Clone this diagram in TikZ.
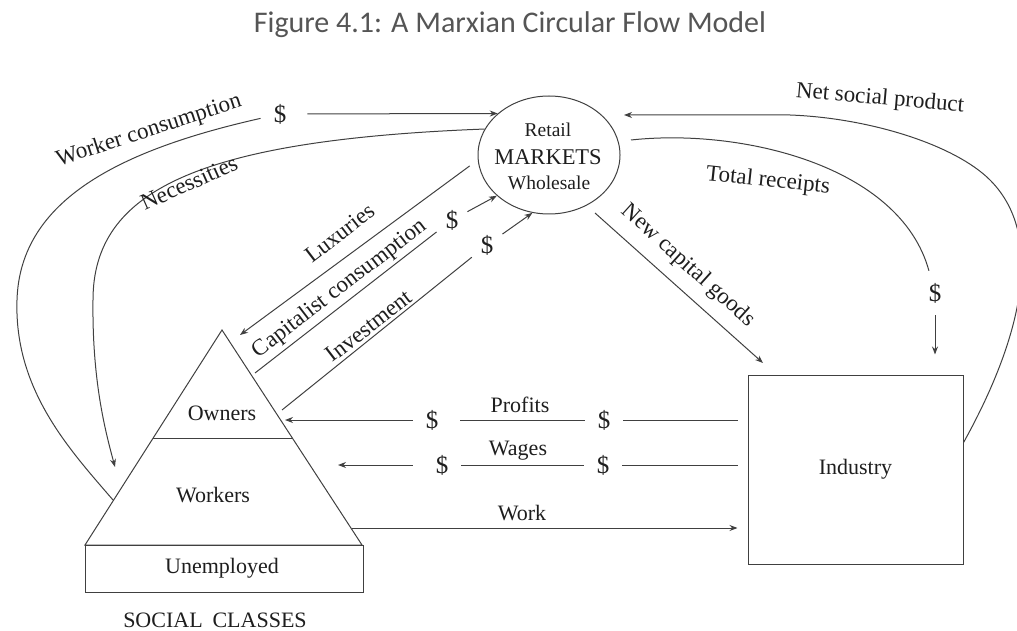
\documentclass[tikz,border=0pt]{standalone}
\usepackage{fontspec}
\setmainfont{Liberation Serif}
\newfontfamily\titlefont{Carlito}
\usetikzlibrary{shapes.geometric,arrows.meta}
\definecolor{linec}{HTML}{404040}
\definecolor{textc}{HTML}{1E1E1E}
\definecolor{titlec}{HTML}{555555}
\newcommand\lbfont{\fontsize{22}{24}\selectfont}
\newcommand\rtfont{\fontsize{23}{25}\selectfont}
\newcommand\smfont{\fontsize{19.5}{22}\selectfont}
\newcommand\mkfont{\fontsize{22.5}{24}\selectfont}
\newcommand\dolfont{\fontsize{25}{27}\selectfont}
\begin{document}
\begin{tikzpicture}[x=1pt,y=-1pt,
  ln/.style={draw=linec,line width=1pt},
  arr/.style={ln,-{Stealth[length=8pt,width=6pt]}},
  lbl/.style={text=textc,font=\lbfont,inner sep=0pt},
  rlbl/.style={lbl,font=\rtfont},
  dol/.style={text=textc,font=\dolfont,inner xsep=13pt,inner ysep=2pt},
  box/.style={draw=linec,line width=1pt,text=textc,font=\lbfont}]
\useasboundingbox (0,0) rectangle (1017,631);
\clip (0,0) rectangle (1017,631);

% title
\node[text=titlec,font=\titlefont\fontsize{30}{32}\selectfont,anchor=base,inner sep=0pt] (title) at (510,33) {Figure 4.1: A Marxian Circular Flow Model};

% markets
\node[box,ellipse,minimum width=142pt,minimum height=118pt,inner sep=0pt] (mk) at (549,155) {};
\node[lbl,font=\smfont,anchor=base] (mkr) at (548,137) {Retail};
\node[lbl,font=\mkfont,anchor=base] (mkm) at (548,165) {MARKETS};
\node[lbl,font=\smfont,anchor=base] (mkw) at (549,190) {Wholesale};

% industry
\node[box,minimum width=215pt,minimum height=189pt,inner sep=0pt] (ind) at (855.5,469.5) {Industry};

% pyramid of social classes
\coordinate (apex) at (222,330);
\coordinate (bl) at (85,545);
\coordinate (br) at (362,545);
\coordinate (ol) at (153,438);
\coordinate (or) at (292,438);
\coordinate (ubr) at (363,592);
\draw[ln] (apex) -- (br) -- (bl) -- cycle;
\draw[ln] (ol) -- (or);
\draw[ln] (bl) rectangle (ubr);
\node[lbl] (own) at (222,413) {Owners};
\node[lbl] (wrk) at (213,495) {Workers};
\node[lbl] (unemp) at (222,568) {Unemployed};
\node[lbl] (soc) at (215,620) {SOCIAL\hspace{0.45em}CLASSES};

% dollar signs
\node[dol] (wcd) at (280,114) {\$};
\node[dol,inner xsep=9pt] (ccd) at (452,220) {\$};
\node[dol,inner xsep=9pt] (ivd) at (487,245) {\$};
\node[dol,inner ysep=12pt] (trd) at (935,293) {\$};
\node[dol] (pd1) at (432,420) {\$};
\node[dol] (pd2) at (604,420) {\$};
\node[dol] (wd1) at (442,465) {\$};
\node[dol] (wd2) at (603,465) {\$};

% free ends
\coordinate (wcEnd) at (113,500);
\coordinate (necTip) at (115,467);
\coordinate (luxTip) at (240,335);
\coordinate (ccStart) at (255,373);
\coordinate (ivStart) at (282,410);
\coordinate (ncgStart) at (595,213);
\coordinate (ncgTip) at (763,363);
\coordinate (trStart) at (631,140);
\coordinate (nspTip) at (624,115);
\coordinate (profTip) at (285,420);
\coordinate (wagTip) at (338,465);
\coordinate (workStart) at (352,528);

% worker consumption
\draw[ln] (wcd) .. controls (120,150) and (20,200) .. (17,300) .. controls (14,390) and (70,450) .. (wcEnd);
\draw[arr,shorten <=8pt] (wcd) -- (mk.141);
% necessities
\draw[arr] (mk.158) .. controls (200,140) and (93,190) .. (93,300) .. controls (92,380) and (105,430) .. (necTip);
% luxuries
\draw[arr,shorten <=10pt] (mk.184) -- (luxTip);
% capitalist consumption
\draw[ln] (ccStart) -- (ccd);
\draw[arr] (ccd) -- (mk.218);
% investment
\draw[ln] (ivStart) -- (ivd);
\draw[arr] (ivd) -- (mk.254);
% new capital goods
\draw[arr] (ncgStart) -- (ncgTip);
% total receipts
\draw[ln] (trStart) .. controls (740,128) and (900,165) .. (trd);
\draw[arr,shorten >=20pt] (trd) -- (trd |- ind.north);
% net social product
\draw[arr] (ind.14) .. controls (1015,350) and (1050,240) .. (990,180) .. controls (955,145) and (870,118) .. (790,115) -- (nspTip);
% profits
\draw[arr] (pd1) -- (profTip);
\draw[ln,shorten <=9pt] (pd1) -- (pd2);
\draw[ln,shorten >=10pt] (pd2) -- (pd2 -| ind.west);
% wages
\draw[arr,shorten <=10pt] (wd1) -- (wagTip);
\draw[ln] (wd1) -- (wd2);
\draw[ln,shorten >=10pt] (wd2) -- (wd2 -| ind.west);
% work
\draw[arr,shorten >=10pt] (workStart) -- (workStart -| ind.west);

% labels
\node[lbl] (lprof) at (520,405) {Profits};
\node[lbl] (lwag) at (518,451) {Wages};
\node[lbl] (lwork) at (522,513) {Work};
\node[rlbl,rotate=18] (lwc) at (149,131) {Worker consumption};
\node[rlbl,rotate=24] (lnec) at (189,183) {Necessities};
\node[rlbl,rotate=37.5] (llux) at (340,233) {Luxuries};
\node[rlbl,rotate=37.5] (lcc) at (340,289) {Capitalist consumption};
\node[rlbl,rotate=37.5] (linv) at (369,326) {Investment};
\node[rlbl,rotate=-42] (lncg) at (688,266) {New capital goods};
\node[rlbl,rotate=-6] (ltr) at (768,181) {Total receipts};
\node[rlbl,rotate=-5] (lnsp) at (880,99) {Net social product};
\end{tikzpicture}
\end{document}
